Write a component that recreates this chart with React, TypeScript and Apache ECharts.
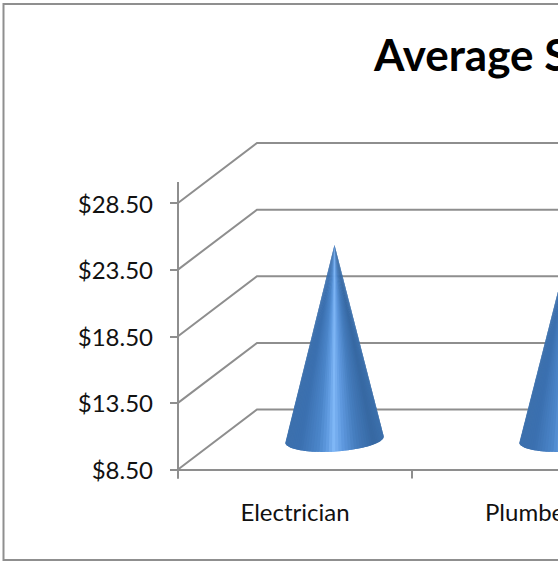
import React, { useEffect, useRef } from "react";
import * as echarts from "echarts";

const categories = ["Electrician", "Plumber"];
const averages = [23.1, 22.7];
const yTicks = [8.5, 13.5, 18.5, 23.5, 28.5];
const titleText = "Average S";

const GREY = "#8e8e8e";
const FONT = "Lato, 'Open Sans', sans-serif";
const DEPTH_X = 79;
const DEPTH_Y = 60;

function hex(c: number[]) {
  return "#" + c.map((v) => Math.round(v).toString(16).padStart(2, "0")).join("");
}
const ramp: [number, number[]][] = [
  [0, [0x3c, 0x70, 0xad]],
  [0.15, [0x3b, 0x70, 0xb0]],
  [0.33, [0x4b, 0x85, 0xc9]],
  [0.42, [0x5f, 0x9a, 0xe0]],
  [0.49, [0x80, 0xb7, 0xf6]],
  [0.58, [0x60, 0x9a, 0xe0]],
  [0.72, [0x45, 0x7c, 0xbd]],
  [0.9, [0x36, 0x68, 0xa2]],
  [1, [0x3c, 0x70, 0xac]],
];
function colorAt(t: number) {
  for (let i = 1; i < ramp.length; i++) {
    if (t <= ramp[i][0]) {
      const [a, ca] = ramp[i - 1];
      const [b, cb] = ramp[i];
      const k = (t - a) / (b - a);
      return hex(ca.map((v, j) => v + (cb[j] - v) * k));
    }
  }
  return hex(ramp[ramp.length - 1][1]);
}

export default function App() {
  const ref = useRef<HTMLDivElement>(null);
  useEffect(() => {
    const chart = echarts.init(ref.current!, null, { renderer: "svg" });
    chart.setOption({
      animation: false,
      backgroundColor: "#ffffff",
      title: {
        text: titleText,
        left: 369,
        top: 27,
        textStyle: { fontFamily: FONT, fontWeight: "bold", fontSize: 44, color: "#000" },
      },
      graphic: [
        {
          type: "rect",
          shape: { x: 3.5, y: 4, width: 900, height: 556 },
          style: { fill: "none", stroke: "#8f8f8f", lineWidth: 2 },
          silent: true,
        },
      ],
      grid: { left: 178, top: 203, width: 468, height: 266.5 },
      xAxis: {
        type: "category",
        data: categories,
        axisLine: { lineStyle: { color: GREY, width: 2 } },
        axisTick: { show: true, length: 9, lineStyle: { color: GREY, width: 2 } },
        axisLabel: { fontFamily: FONT, fontSize: 24, color: "#111", margin: 30 },
      },
      yAxis: {
        type: "value",
        min: 8.5,
        max: 28.5,
        splitLine: { show: false },
        axisLine: { show: true, lineStyle: { color: GREY, width: 2 } },
        axisTick: { show: true, length: 8, customValues: yTicks, lineStyle: { color: GREY, width: 2 } },
        axisLabel: {
          fontFamily: FONT,
          fontSize: 24,
          color: "#111",
          margin: 25,
          customValues: yTicks,
          formatter: (v: number) => "$" + v.toFixed(2),
        },
      },
      series: [
        {
          type: "custom",
          z: 1,
          clip: false,
          silent: true,
          data: yTicks.map((v) => [0, v]),
          renderItem: (_p: any, api: any) => {
            const c = api.coord([api.value(0), api.value(1)]);
            const band = api.size([1, 0])[0];
            const x0 = c[0] - band / 2;
            const y = c[1];
            const ls = { stroke: GREY, lineWidth: 2, fill: "none" };
            const children: any[] = [
              { type: "polyline", shape: { points: [[x0, y], [x0 + DEPTH_X, y - DEPTH_Y], [x0 + 700, y - DEPTH_Y]] }, style: ls },
            ];
            if (api.value(1) === yTicks[0]) {
              children.push({ type: "line", shape: { x1: x0, y1: y, x2: x0, y2: y + 9 }, style: ls });
            }
            if (api.value(1) === yTicks[yTicks.length - 1]) {
              children.push({ type: "line", shape: { x1: x0, y1: y, x2: x0, y2: y - 21 }, style: ls });
            }
            return { type: "group", children };
          },
        },
        {
          type: "custom",
          z: 3,
          clip: false,
          silent: true,
          data: averages.map((v, i) => [i, v]),
          renderItem: (_p: any, api: any) => {
            const top = api.coord([api.value(0), api.value(1)]);
            const base = api.coord([api.value(0), yTicks[0]]);
            const cx = top[0] + DEPTH_X / 2;
            const cy = base[1] - DEPTH_Y / 2;
            const apex = [cx, top[1] - DEPTH_Y / 2];
            const rx = 49.3;
            const ry = 12;
            const tilt = (-3.7 * Math.PI) / 180;
            const pt = (a: number) => {
              const ex = rx * Math.cos(a);
              const ey = ry * Math.sin(a);
              return [cx + ex * Math.cos(tilt) - ey * Math.sin(tilt), cy + ex * Math.sin(tilt) + ey * Math.cos(tilt)];
            };
            const N = 48;
            const children: any[] = [];
            for (let i = 0; i < N; i++) {
              const a0 = Math.PI - (Math.PI * i) / N;
              const a1 = Math.PI - (Math.PI * Math.min(i + 1, N)) / N;
              const a2 = Math.PI - (Math.PI * Math.min(i + 2, N)) / N;
              const p0 = pt(a0);
              const p1 = pt(a1);
              const p2 = pt(a2);
              const t = ((p0[0] + p1[0]) / 2 - (cx - rx)) / (2 * rx);
              const col = colorAt(t);
              children.push({
                type: "polygon",
                shape: { points: [apex, p0, p1, p2] },
                style: { fill: col },
              });
            }
            return { type: "group", children };
          },
        },
      ],
    });
    return () => chart.dispose();
  }, []);
  return (
    <div style={{ position: "fixed", left: 0, top: 0, width: 558, height: 561, overflow: "hidden", background: "#fff" }}>
      <div ref={ref} style={{ width: 920, height: 561 }} />
    </div>
  );
}
